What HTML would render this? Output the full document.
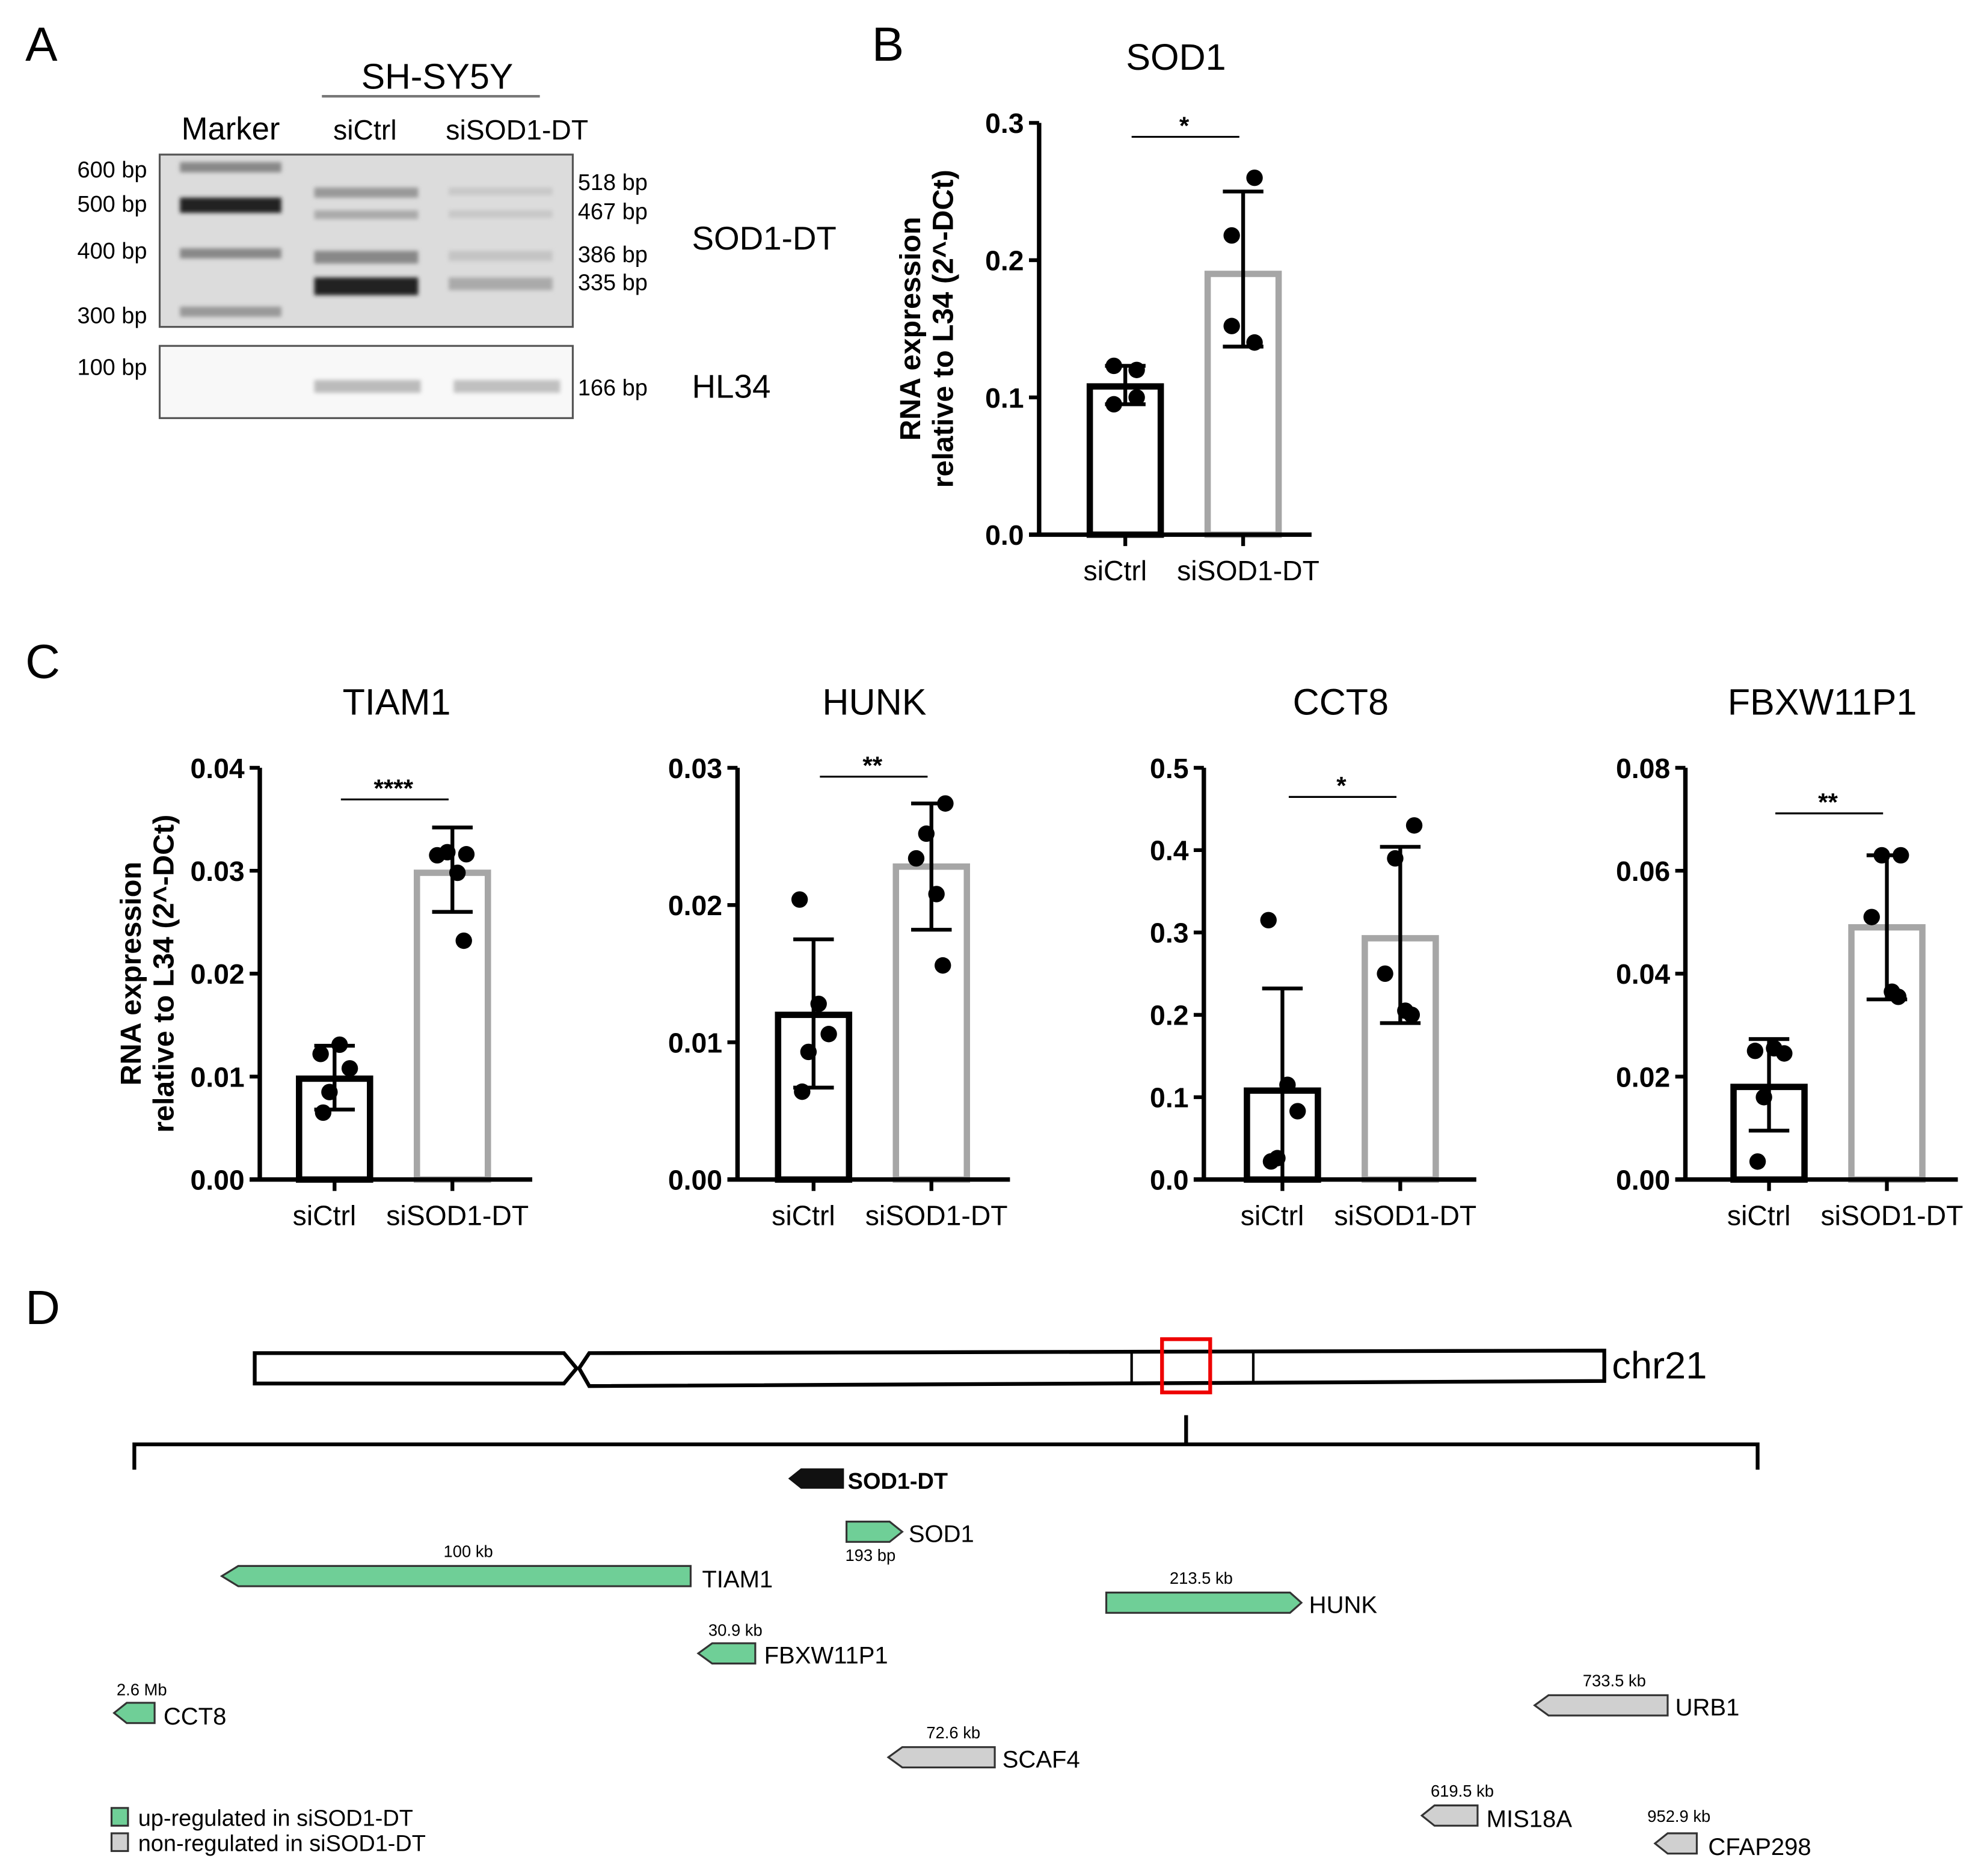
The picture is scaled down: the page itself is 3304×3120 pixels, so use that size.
<!DOCTYPE html>
<html><head><meta charset="utf-8"><style>
html,body{margin:0;padding:0;background:#fff;}
svg{display:block;}
text{font-family:"Liberation Sans",sans-serif;}
</style></head><body>
<svg id="fig" xmlns="http://www.w3.org/2000/svg" width="3304" height="3120" viewBox="0 0 1568 1480.7">
<defs>
<filter id="blur" x="-20%" y="-50%" width="140%" height="200%"><feGaussianBlur stdDeviation="1.6"/></filter>
</defs>
<g>
<text x="20" y="48" font-size="38">A</text>
<text x="345" y="70" font-size="28" text-anchor="middle">SH-SY5Y</text>
<line x1="254" y1="76" x2="426" y2="76" stroke="#777" stroke-width="2"/>
<text x="182" y="110" font-size="25" text-anchor="middle">Marker</text>
<text x="288" y="110" font-size="22" text-anchor="middle">siCtrl</text>
<text x="408" y="110" font-size="22" text-anchor="middle">siSOD1-DT</text>
<rect x="126" y="122" width="326" height="136" fill="#dcdcdc" stroke="#555" stroke-width="1.5"/>
<g filter="url(#blur)">
<rect x="142" y="128" width="80" height="8" fill="#888"/>
<rect x="142" y="156" width="80" height="12" fill="#222"/>
<rect x="142" y="196" width="80" height="8" fill="#888"/>
<rect x="142" y="242" width="80" height="8" fill="#999"/>
<rect x="248" y="148" width="82" height="8" fill="#999"/>
<rect x="248" y="166" width="82" height="7" fill="#aaa"/>
<rect x="248" y="198" width="82" height="10" fill="#888"/>
<rect x="248" y="219" width="82" height="14" fill="#222"/>
<rect x="354" y="148" width="82" height="6" fill="#c8c8c8"/>
<rect x="354" y="166" width="82" height="6" fill="#c8c8c8"/>
<rect x="354" y="198" width="82" height="8" fill="#c4c4c4"/>
<rect x="354" y="219" width="82" height="10" fill="#aaa"/>
</g>
<rect x="126" y="273" width="326" height="57" fill="#f8f8f8" stroke="#555" stroke-width="1.5"/>
<g filter="url(#blur)">
<rect x="248" y="300" width="84" height="10" fill="#bbb"/>
<rect x="358" y="300" width="84" height="10" fill="#c0c0c0"/>
</g>
<g font-size="18">
<text x="116" y="140" text-anchor="end">600 bp</text>
<text x="116" y="167" text-anchor="end">500 bp</text>
<text x="116" y="204" text-anchor="end">400 bp</text>
<text x="116" y="255" text-anchor="end">300 bp</text>
<text x="116" y="296" text-anchor="end">100 bp</text>
<text x="456" y="150">518 bp</text>
<text x="456" y="173">467 bp</text>
<text x="456" y="207">386 bp</text>
<text x="456" y="229">335 bp</text>
<text x="456" y="312">166 bp</text>
</g>
<text x="546" y="197" font-size="26">SOD1-DT</text>
<text x="546" y="314" font-size="26">HL34</text>
</g>
<text x="688" y="48" font-size="38">B</text>
<text x="20" y="535" font-size="38">C</text>
<text x="20" y="1045" font-size="38">D</text>
<g id="charts"></g>
<g>
<path d="M201,1068 L445,1068 L455,1080 L445,1092 L201,1092 Z" fill="#fff" stroke="#000" stroke-width="3"/>
<path d="M465,1068 L1266,1066 L1266,1090 L465,1094 L457,1080 Z" fill="#fff" stroke="#000" stroke-width="3"/>
<line x1="893" y1="1067" x2="893" y2="1091" stroke="#000" stroke-width="2"/>
<line x1="989" y1="1067" x2="989" y2="1091" stroke="#000" stroke-width="2"/>
<rect x="917" y="1057" width="38" height="42" fill="none" stroke="#e00" stroke-width="3"/>
<text x="1272" y="1088" font-size="30">chr21</text>
<line x1="936" y1="1117" x2="936" y2="1140" stroke="#000" stroke-width="3"/>
<path d="M106,1160 L106,1140 L1387,1140 L1387,1160" fill="none" stroke="#000" stroke-width="3"/>
<path d="M622,1167 L632,1159 L666,1159 L666,1175 L632,1175 Z" fill="#111"/>
<text x="669" y="1175" font-size="18" font-weight="bold">SOD1-DT</text>
<g stroke="#333" stroke-width="1.5">
<path d="M668,1201 L702,1201 L712,1209 L702,1217 L668,1217 Z" fill="#6fcf97"/>
<path d="M175,1244 L188,1236 L545,1236 L545,1252 L188,1252 Z" fill="#6fcf97"/>
<path d="M873,1257 L1018,1257 L1027,1265 L1018,1273 L873,1273 Z" fill="#6fcf97"/>
<path d="M551,1305 L562,1297 L596,1297 L596,1313 L562,1313 Z" fill="#6fcf97"/>
<path d="M90,1352 L100,1344 L122,1344 L122,1360 L100,1360 Z" fill="#6fcf97"/>
<path d="M1211,1346 L1222,1338 L1316,1338 L1316,1354 L1222,1354 Z" fill="#d0d0d0"/>
<path d="M701,1387 L712,1379 L785,1379 L785,1395 L712,1395 Z" fill="#d0d0d0"/>
<path d="M1122,1433 L1132,1425 L1166,1425 L1166,1441 L1132,1441 Z" fill="#d0d0d0"/>
<path d="M1306,1455 L1316,1447 L1339,1447 L1339,1463 L1316,1463 Z" fill="#d0d0d0"/>
<rect x="88" y="1427" width="13" height="14" fill="#6fcf97"/>
<rect x="88" y="1447" width="13" height="14" fill="#d0d0d0"/>
</g>
<g font-size="19">
<text x="717" y="1217">SOD1</text>
<text x="554" y="1253">TIAM1</text>
<text x="1033" y="1273">HUNK</text>
<text x="603" y="1313">FBXW11P1</text>
<text x="129" y="1361">CCT8</text>
<text x="1322" y="1354">URB1</text>
<text x="791" y="1395">SCAF4</text>
<text x="1173" y="1442">MIS18A</text>
<text x="1348" y="1464">CFAP298</text>
</g>
<g font-size="13">
<text x="667" y="1232">193 bp</text>
<text x="350" y="1229">100 kb</text>
<text x="923" y="1250">213.5 kb</text>
<text x="559" y="1291">30.9 kb</text>
<text x="92" y="1338">2.6 Mb</text>
<text x="1249" y="1331">733.5 kb</text>
<text x="731" y="1372">72.6 kb</text>
<text x="1129" y="1418">619.5 kb</text>
<text x="1300" y="1438">952.9 kb</text>
</g>
<text x="109" y="1441" font-size="18">up-regulated in siSOD1-DT</text>
<text x="109" y="1461" font-size="18">non-regulated in siSOD1-DT</text>
</g>
</svg>
<script>
const groups = ["siCtrl", "siSOD1-DT"];
const sod1Means = [0.108, 0.19];
const sod1ErrLo = [0.095, 0.137];
const sod1ErrHi = [0.123, 0.25];
const sod1Ctrl = [0.123, 0.12, 0.1, 0.095];
const sod1Si = [0.26, 0.218, 0.152, 0.14];
const sod1Ticks = ["0.0", "0.1", "0.2", "0.3"];

const tiam1Means = [0.0098, 0.0298];
const tiam1ErrLo = [0.0068, 0.026];
const tiam1ErrHi = [0.013, 0.0342];
const tiam1Ctrl = [0.0122, 0.0131, 0.0108, 0.0085, 0.0065];
const tiam1Si = [0.0316, 0.0318, 0.0315, 0.0298, 0.0232];
const tiam1Ticks = ["0.00", "0.01", "0.02", "0.03", "0.04"];

const hunkMeans = [0.012, 0.0228];
const hunkErrLo = [0.0067, 0.0182];
const hunkErrHi = [0.0175, 0.0274];
const hunkCtrl = [0.0204, 0.0128, 0.0106, 0.0093, 0.0064];
const hunkSi = [0.0274, 0.0252, 0.0234, 0.0208, 0.0156];
const hunkTicks = ["0.00", "0.01", "0.02", "0.03"];

const cct8Means = [0.108, 0.293];
const cct8ErrLo = [0.0, 0.19];
const cct8ErrHi = [0.232, 0.404];
const cct8Ctrl = [0.315, 0.115, 0.083, 0.026, 0.022];
const cct8Si = [0.43, 0.39, 0.25, 0.205, 0.2];
const cct8Ticks = ["0.0", "0.1", "0.2", "0.3", "0.4", "0.5"];

const fbxMeans = [0.018, 0.049];
const fbxErrLo = [0.0095, 0.035];
const fbxErrHi = [0.0273, 0.063];
const fbxCtrl = [0.025, 0.0255, 0.0245, 0.016, 0.0035];
const fbxSi = [0.063, 0.063, 0.051, 0.0365, 0.0355];
const fbxTicks = ["0.00", "0.02", "0.04", "0.06", "0.08"];

const NS = "http://www.w3.org/2000/svg";
const root = document.getElementById("charts");
function mk(tag, attrs, parent) {
  const e = document.createElementNS(NS, tag);
  for (const k in attrs) e.setAttribute(k, attrs[k]);
  parent.appendChild(e);
  return e;
}
function chart(cfg) {
  const g = mk("g", {}, root);
  
  
  const x0 = cfg.x, top = cfg.top, bot = cfg.bot;
  const ymax = parseFloat(cfg.ticks[cfg.ticks.length - 1]);
  const y = v => bot - (v / ymax) * (bot - top);
  const cx = [x0 + cfg.c1, x0 + cfg.c1 + 93];
  const t = mk("text", {x: x0 + 108, y: top - 42, "font-size": 29, "text-anchor": "middle"}, g);
  t.textContent = cfg.title;
  
  
  for (let i = 0; i < 2; i++) {
    const b = mk("rect", {x: cx[i] - 28, y: y(cfg.means[i]), width: 56, height: bot - y(cfg.means[i]),
      fill: "#fff", stroke: i ? "#a6a6a6" : "#000", "stroke-width": 5}, g);
    
    
  }
  mk("line", {x1: x0, y1: top, x2: x0, y2: bot, stroke: "#000", "stroke-width": 3.5}, g);
  mk("line", {x1: x0 - 8, y1: bot, x2: x0 + 215, y2: bot, stroke: "#000", "stroke-width": 3.5}, g);
  cfg.ticks.forEach(tk => {
    const v = parseFloat(tk);
    mk("line", {x1: x0 - 8, y1: y(v), x2: x0, y2: y(v), stroke: "#000", "stroke-width": 3}, g);
    const tl = mk("text", {x: x0 - 12, y: y(v) + 8, "font-size": 22, "font-weight": "bold", "text-anchor": "end"}, g);
    tl.textContent = tk;
    
    
  });
  for (let i = 0; i < 2; i++) {
    mk("line", {x1: cx[i], y1: bot, x2: cx[i], y2: bot + 9, stroke: "#000", "stroke-width": 3}, g);
    const xl = mk("text", {x: cx[i] - (i ? -4 : 8), y: bot + 36, "font-size": 22, "text-anchor": "middle"}, g);
    xl.textContent = groups[i];
    
    
  }
  for (let i = 0; i < 2; i++) {
    mk("line", {x1: cx[i], y1: y(cfg.lo[i]), x2: cx[i], y2: y(cfg.hi[i]), stroke: "#000", "stroke-width": 3}, g);
    mk("line", {x1: cx[i] - 16, y1: y(cfg.lo[i]), x2: cx[i] + 16, y2: y(cfg.lo[i]), stroke: "#000", "stroke-width": 3}, g);
    mk("line", {x1: cx[i] - 16, y1: y(cfg.hi[i]), x2: cx[i] + 16, y2: y(cfg.hi[i]), stroke: "#000", "stroke-width": 3}, g);
  }
  const offs5 = [-11, 4, 12, -4, -9];
  const offs4 = [-9, 9, 9, -9];
  [cfg.ctrl, cfg.si].forEach((arr, i) => {
    arr.forEach((v, j) => {
      const o = arr.length === 4 ? offs4[j] : offs5[j];
      const p = mk("circle", {cx: cx[i] + o * (i ? -1 : 1), cy: y(v), r: 6.5, fill: "#000"}, g);
      
      
    });
  });
  const sy = cfg.sigY;
  mk("line", {x1: cx[0] + 5, y1: sy, x2: cx[1] - 3, y2: sy, stroke: "#000", "stroke-width": 1.5}, g);
  const st = mk("text", {x: (cx[0] + cx[1]) / 2, y: sy - 2, "font-size": 20, "font-weight": "bold", "text-anchor": "middle"}, g);
  st.textContent = cfg.sig;
  
  
  if (cfg.ylab) {
    const yl = mk("text", {transform: `translate(${x0 - 90},${(top + bot) / 2}) rotate(-90)`, "font-size": 23, "font-weight": "bold", "text-anchor": "middle"}, g);
    
    
    const a = mk("tspan", {x: 0, dy: -4}, yl); a.textContent = "RNA expression";
    const b = mk("tspan", {x: 0, dy: 26}, yl); b.textContent = "relative to L34 (2^-DCt)";
  }
}
chart({name: "sod1", title: "SOD1", x: 820, top: 97, bot: 422, c1: 68, ticks: sod1Ticks, means: sod1Means, lo: sod1ErrLo, hi: sod1ErrHi, ctrl: sod1Ctrl, si: sod1Si, sig: "*", sigY: 108, ylab: true});
chart({name: "tiam1", title: "TIAM1", x: 205, top: 606, bot: 931, c1: 59, ticks: tiam1Ticks, means: tiam1Means, lo: tiam1ErrLo, hi: tiam1ErrHi, ctrl: tiam1Ctrl, si: tiam1Si, sig: "****", sigY: 631, ylab: true});
chart({name: "hunk", title: "HUNK", x: 582, top: 606, bot: 931, c1: 60, ticks: hunkTicks, means: hunkMeans, lo: hunkErrLo, hi: hunkErrHi, ctrl: hunkCtrl, si: hunkSi, sig: "**", sigY: 613});
chart({name: "cct8", title: "CCT8", x: 950, top: 606, bot: 931, c1: 62, ticks: cct8Ticks, means: cct8Means, lo: cct8ErrLo, hi: cct8ErrHi, ctrl: cct8Ctrl, si: cct8Si, sig: "*", sigY: 629});
chart({name: "fbxw11p1", title: "FBXW11P1", x: 1330, top: 606, bot: 931, c1: 66, ticks: fbxTicks, means: fbxMeans, lo: fbxErrLo, hi: fbxErrHi, ctrl: fbxCtrl, si: fbxSi, sig: "**", sigY: 642});
</script>
</body></html>
